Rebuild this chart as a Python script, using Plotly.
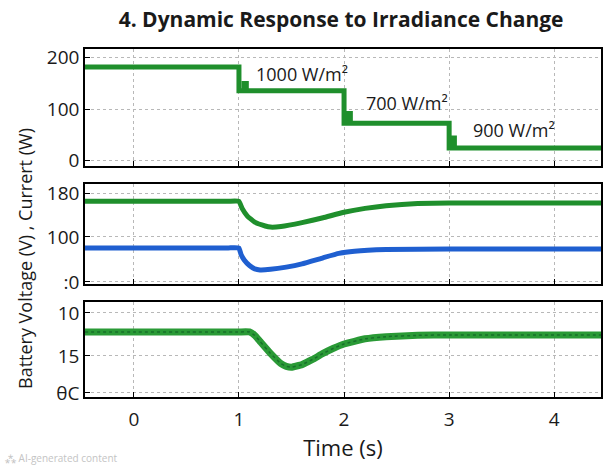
import plotly.graph_objects as go
from plotly.subplots import make_subplots

# ---- data ----
t_step = [-0.465, 1.0, 1.05, 1.07, 2.0, 2.04, 2.06, 3.0, 3.03, 3.05, 4.445]
power = [182, 136, 150, 136, 73, 92, 73, 25, 44, 25, 25]
irr_labels = ["1000 W/m²", "700 W/m²", "900 W/m²"]

t_green = [-0.465, 0.0, 0.5, 0.9, 1.0, 1.03, 1.08, 1.15, 1.25, 1.3, 1.4, 1.6, 1.8, 2.0, 2.2, 2.4, 2.7, 3.0, 3.5, 4.0, 4.445]
v_green = [165, 165, 165, 165, 165, 152, 138, 127, 120, 118, 119, 126, 135, 145, 152, 157, 161, 162, 162, 162, 162]

t_blue = [-0.465, 0.0, 0.5, 0.9, 1.0, 1.02, 1.05, 1.1, 1.15, 1.2, 1.3, 1.45, 1.6, 1.8, 1.95, 2.1, 2.4, 3.0, 3.5, 4.0, 4.445]
v_blue = [80, 80, 80, 80, 80, 68, 58, 48, 42, 40, 41, 45, 51, 62, 70, 74, 77, 78, 78, 78, 78]

t_bat = [-0.465, 0.0, 0.5, 1.0, 1.1, 1.15, 1.2, 1.3, 1.4, 1.45, 1.5, 1.6, 1.7, 1.8, 1.9, 2.0, 2.2, 2.4, 2.7, 3.0, 3.5, 4.0, 4.445]
bat = [12.2, 12.2, 12.2, 12.2, 12.2, 12.6, 13.3, 14.7, 15.9, 16.2, 16.3, 16.0, 15.4, 14.7, 14.1, 13.6, 13.0, 12.75, 12.6, 12.55, 12.55, 12.55, 12.55]

x_ticks = [0, 1, 2, 3, 4]
GREEN = "#1f8f2c"
BLUE = "#1f5fd0"
FONT = "Open Sans"
TXT = "#1a1a1a"

fig = make_subplots(rows=3, cols=1, shared_xaxes=True)

fig.add_trace(go.Scatter(x=t_step, y=power, mode="lines", line=dict(color=GREEN, width=5, shape="hv")), row=1, col=1)
fig.add_trace(go.Scatter(x=t_green, y=v_green, mode="lines", line=dict(color=GREEN, width=5, shape="spline", smoothing=0.3)), row=2, col=1)
fig.add_trace(go.Scatter(x=t_blue, y=v_blue, mode="lines", line=dict(color=BLUE, width=5, shape="spline", smoothing=0.3)), row=2, col=1)
fig.add_trace(go.Scatter(x=t_bat, y=bat, mode="lines", line=dict(color="#2a9a36", width=7, shape="spline", smoothing=0.3)), row=3, col=1)
fig.add_trace(go.Scatter(x=t_bat, y=bat, mode="lines", line=dict(color="#17702a", width=1.5, dash="dot", shape="spline", smoothing=0.3)), row=3, col=1)

axis_common = dict(showline=True, linecolor="black", linewidth=1.5, mirror=True,
                   showgrid=True, gridcolor="#b8b8b8", griddash="dot", gridwidth=1,
                   ticks="inside", ticklen=5, tickcolor="black", zeroline=False,
                   tickfont=dict(family=FONT, size=19, color=TXT))

for r in (1, 2, 3):
    fig.update_xaxes(range=[-0.465, 4.445], tickvals=x_ticks, showticklabels=(r == 3), row=r, col=1, **axis_common)

fig.update_xaxes(ticktext=[str(v) for v in x_ticks], ticklabelstandoff=4, row=3, col=1)

fig.update_yaxes(range=[-10, 217], tickvals=[0, 100, 200], ticktext=["0", "100", "200"], row=1, col=1, **axis_common)
fig.update_yaxes(range=[14.5, 196.4], tickvals=[18.2, 100, 180], ticktext=[":0", "100", "180"], row=2, col=1, **axis_common)
fig.update_yaxes(range=[19.77, 8.72], tickvals=[10, 15, 19.3], ticktext=["10", "15", "θC"], row=3, col=1, **axis_common)

fig.update_layout(
    width=608, height=468,
    margin=dict(l=85, r=5, t=49, b=71),
    paper_bgcolor="white", plot_bgcolor="white",
    showlegend=False,
    font=dict(family=FONT, color=TXT),
    title=dict(text="<b>4. Dynamic Response to Irradiance Change</b>", x=0.561, xanchor="center",
               y=0.957, yanchor="middle", font=dict(family=FONT, size=21, color=TXT)),
    yaxis=dict(domain=[0.664, 1.0]),
    yaxis2=dict(domain=[0.325, 0.612]),
    yaxis3=dict(domain=[0.0, 0.273]),
)

fig.update_xaxes(title=dict(text="Time (s)", font=dict(family=FONT, size=22, color=TXT), standoff=4), row=3, col=1)

ann_x = [1.6, 2.6, 3.62]
ann_y = [168, 112, 60]
for xv, yv, txt in zip(ann_x, ann_y, irr_labels):
    fig.add_annotation(x=xv, y=yv, xref="x", yref="y", text=txt, showarrow=False,
                       font=dict(family=FONT, size=18, color=TXT))

fig.add_annotation(x=0, y=0.5, xref="paper", yref="paper", xshift=-60, yshift=-36,
                   text="Battery Voltage (V) , Currert (W)",
                   textangle=-90, showarrow=False, xanchor="center", yanchor="middle",
                   font=dict(family=FONT, size=18, color=TXT))
fig.add_annotation(x=0, y=0, xref="paper", yref="paper", xshift=-82, yshift=-70, text="⁂ AI-generated content",
                   showarrow=False, xanchor="left", yanchor="bottom",
                   font=dict(family=FONT, size=10, color="#c4c4c4"))

fig.write_html("out.html")
